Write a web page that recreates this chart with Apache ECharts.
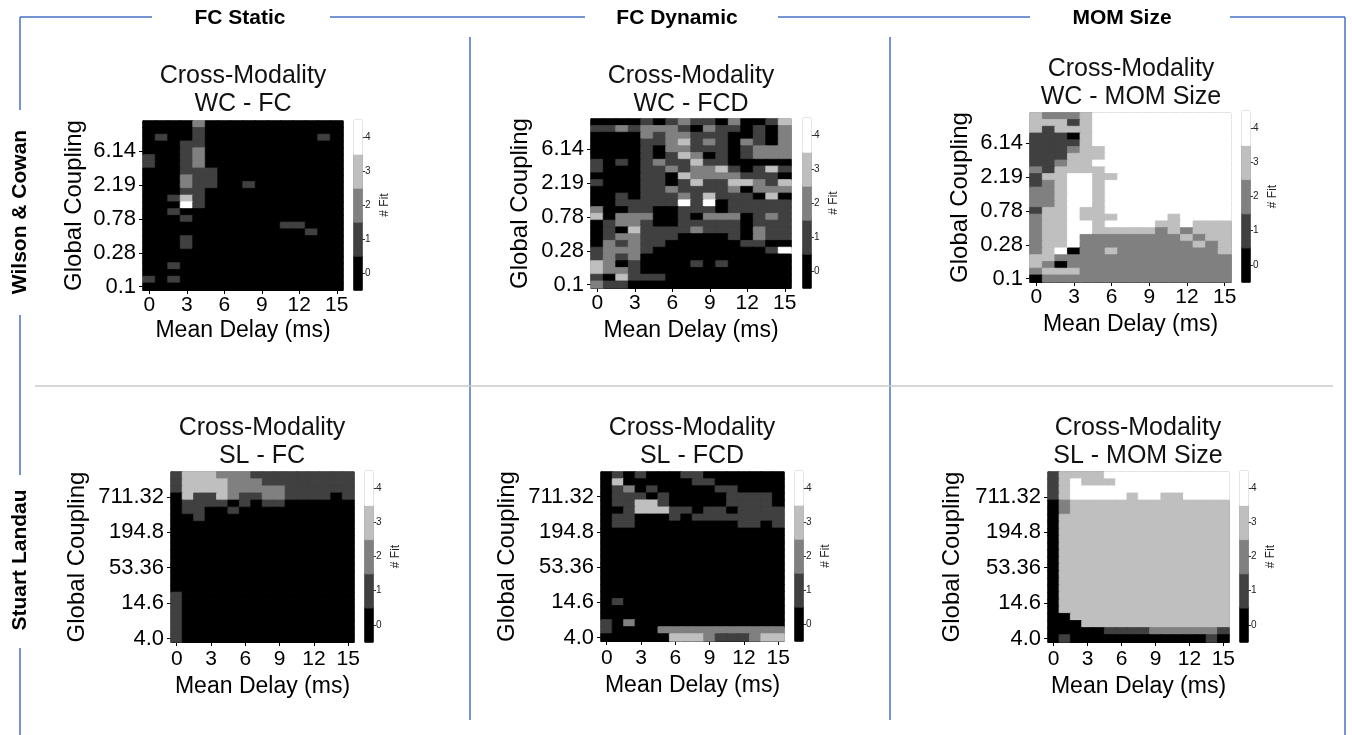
<!DOCTYPE html>
<html>
<head>
<meta charset="utf-8">
<title>Cross-Modality fits</title>
<script src="https://cdn.jsdelivr.net/npm/echarts@6/dist/echarts.min.js"></script>
<style>
  html, body { margin: 0; padding: 0; background: #fff; }
  #main { width: 1352px; height: 735px; }
</style>
</head>
<body>
<div id="main"></div>
<script>
  // x categories: mean delay in ms
  const meanDelay = ['0','1','2','3','4','5','6','7','8','9','10','11','12','13','14','15'];
  // y tick labels (every 5th row)
  const wcTicks = ['0.1', '0.28', '0.78', '2.19', '6.14'];
  const slTicks = ['4.0', '14.6', '53.36', '194.8', '711.32'];
  // colour bar levels (# Fit)
  const fitLevels = [0, 1, 2, 3, 4];
  const fitColors = ['#000000', '#404040', '#808080', '#bfbfbf', '#ffffff'];

  // each string is one row of # Fit, top row first, one digit per delay column
  const wcFC = [
    '0000200000000000',
    '0000100000000000',
    '0100100000000010',
    '0001100000000000',
    '0001200000000000',
    '1001200000000000',
    '1001200000000000',
    '0001110000000000',
    '0002110000000000',
    '0002110010000000',
    '0001100000000000',
    '0013100000000000',
    '0004100000000000',
    '0010000000000000',
    '0001000000000000',
    '0000000000011000',
    '0000000000000100',
    '0001000000000000',
    '0001000000000000',
    '0000000000000000',
    '0000000000000000',
    '0010000000000000',
    '0000000000000000',
    '1010000000000000',
    '0000000000000000'
  ];
  const wcFCD = [
    '0000101211020013',
    '1121222102110102',
    '0000212211100102',
    '0000112312102102',
    '0000102211101222',
    '0000101320101222',
    '1010121131100000',
    '1000112122310131',
    '0000110322221110',
    '1000110131133213',
    '0000112111120222',
    '0010111213111030',
    '0011111414011111',
    '2001100111011111',
    '3022200102220121',
    '0122100111110111',
    '0103111121110211',
    '0122111000010211',
    '0212110000001100',
    '1222100000000014',
    '1212000000000000',
    '3201000010100000',
    '3221000000000000',
    '1031110000000000',
    '2110000000000000'
  ];
  const wcMOM = [
    '3222344444444444',
    '3331344444444444',
    '3133344444444444',
    '1110344444444444',
    '1111344444444444',
    '1112334444444444',
    '1113334444444444',
    '1123344444444444',
    '2133334444444444',
    '1334433444444444',
    '1234434444444444',
    '2234434444444444',
    '2234434444444444',
    '2234434444444444',
    '1334334444444444',
    '2334333444434444',
    '2334434444334333',
    '2334433333232333',
    '2334222222223233',
    '2334222222222323',
    '2340223222222223',
    '3322222222222222',
    '3202222222222222',
    '2333222222222222',
    '0222222222222222'
  ];
  const slFC = [
    '1333222111111111',
    '1333322211111111',
    '1333322222111111',
    '0311321122111101',
    '0111101011000000',
    '0110010000000000',
    '0010000000000000',
    '0000000000000000',
    '0000000000000000',
    '0000000000000000',
    '0000000000000000',
    '0000000000000000',
    '0000000000000000',
    '0000000000000000',
    '0000000000000000',
    '0000000000000000',
    '0000000000000000',
    '1000000000000000',
    '1000000000000000',
    '1000000000000000',
    '1000000000000000',
    '1000000000000000',
    '1000000000000000',
    '1000000000000000'
  ];
  const slFCD = [
    '0101000110000000',
    '0300000011000000',
    '0120100000110000',
    '0111010000011110',
    '0113310000011110',
    '0013331101101111',
    '0110001011111111',
    '0110000000001101',
    '0000000000000000',
    '0000000000000000',
    '0000000000000000',
    '0000000000000000',
    '0000000000000000',
    '0000000000000000',
    '0000000000000000',
    '0000000000000000',
    '0000000000000000',
    '0000000000000000',
    '0100000000000000',
    '0000000000000000',
    '0000000000000000',
    '1020000000000000',
    '1000022222222222',
    '0000003332111233'
  ];
  const slMOM = [
    '1333344444444444',
    '1343334444444444',
    '1344444444444444',
    '1344444344334444',
    '0233333333333333',
    '0233333333333333',
    '0333333333333333',
    '0333333333333333',
    '0333333333333333',
    '0333333333333333',
    '0333333333333333',
    '0333333333333333',
    '0333333333333333',
    '0333333333333333',
    '0333333333333333',
    '0333333333333333',
    '0333333333333333',
    '0333333333333333',
    '0333333333333333',
    '0333333333333333',
    '0033333333333333',
    '0003333333333333',
    '0000011112222221',
    '0100000000000010'
  ];

  const FONT = 'Liberation Sans, Arial, Helvetica, sans-serif';
  const BLUE = '#4472c4';

  // layout of the six panels
  const panels = [
    { rows: wcFC,  ticks: wcTicks, title: 'Cross-Modality\nWC - FC',
      grid: { left: 143, top: 121, width: 200, height: 169 }, cb: { left: 354, top: 120, width: 8, height: 170 },
      tx: 243, ty: 62, yGap: 57, xGap: 29, lm: 5 },
    { rows: wcFCD, ticks: wcTicks, title: 'Cross-Modality\nWC - FCD',
      grid: { left: 591, top: 119, width: 200, height: 169 }, cb: { left: 803, top: 118, width: 8, height: 170 },
      tx: 691, ty: 62, yGap: 59, xGap: 31, lm: 5 },
    { rows: wcMOM, ticks: wcTicks, title: 'Cross-Modality\nWC - MOM Size',
      grid: { left: 1030, top: 113, width: 201, height: 169 }, cb: { left: 1242, top: 111, width: 8, height: 171 },
      tx: 1131, ty: 55, yGap: 58, xGap: 31, lm: 5 },
    { rows: slFC,  ticks: slTicks, title: 'Cross-Modality\nSL - FC',
      grid: { left: 171, top: 472, width: 183, height: 170 }, cb: { left: 365, top: 471, width: 8, height: 171 },
      tx: 262, ty: 414, yGap: 82, xGap: 33, lm: 7 },
    { rows: slFCD, ticks: slTicks, title: 'Cross-Modality\nSL - FCD',
      grid: { left: 601, top: 472, width: 183, height: 169 }, cb: { left: 795, top: 471, width: 8, height: 170 },
      tx: 692, ty: 414, yGap: 82, xGap: 33, lm: 7 },
    { rows: slMOM, ticks: slTicks, title: 'Cross-Modality\nSL - MOM Size',
      grid: { left: 1048, top: 472, width: 181, height: 170 }, cb: { left: 1240, top: 471, width: 8, height: 171 },
      tx: 1138, ty: 414, yGap: 84, xGap: 33, lm: 7 }
  ];

  // one heatmap item per cell; the border in the same colour hides seams
  function item(c, r, v) {
    return { value: [c, r, v], itemStyle: { borderColor: fitColors[v], borderWidth: 0.8 } };
  }
  function toCells(rows) {
    const n = rows.length;
    const out = [];
    rows.forEach(function (row, t) {
      for (let c = 0; c < row.length; c++) {
        out.push(item(c, n - 1 - t, Number(row[c])));
      }
    });
    return out;
  }

  const grid = [], xAxis = [], yAxis = [], series = [], title = [];

  panels.forEach(function (p, i) {
    grid.push(Object.assign({ show: true, borderColor: '#444', borderWidth: 1, backgroundColor: 'transparent' }, p.grid));
    const rowIds = p.rows.map(function (_, k) { return String(k); });
    const every5 = function (idx) { return idx % 5 === 0; };
    xAxis.push({
      type: 'category', gridIndex: i, data: meanDelay,
      axisLine: { show: true, lineStyle: { color: '#000', width: 1 } },
      axisTick: { show: true, alignWithLabel: true, interval: 2, length: 4, lineStyle: { color: '#000' } },
      axisLabel: { interval: 2, fontSize: 21, color: '#000', margin: p.lm, fontFamily: FONT },
      splitLine: { show: false },
      name: 'Mean Delay (ms)', nameLocation: 'middle', nameGap: p.xGap,
      nameTextStyle: { fontSize: 23, color: '#000', fontFamily: FONT }
    });
    yAxis.push({
      type: 'category', gridIndex: i, data: rowIds,
      axisLine: { show: true, lineStyle: { color: '#000', width: 1 } },
      axisTick: { show: true, alignWithLabel: true, interval: every5, length: 4, lineStyle: { color: '#000' } },
      axisLabel: {
        interval: every5, fontSize: 22, color: '#000', margin: 7, fontFamily: FONT,
        formatter: function (v, idx) { return p.ticks[idx / 5]; }
      },
      splitLine: { show: false },
      name: 'Global Coupling', nameLocation: 'middle', nameRotate: 90, nameGap: p.yGap,
      nameTextStyle: { fontSize: 24, color: '#000', fontFamily: FONT }
    });
    series.push({
      type: 'heatmap', xAxisIndex: i, yAxisIndex: i,
      data: toCells(p.rows), emphasis: { disabled: true }, silent: true
    });
    title.push({
      text: p.title, left: p.tx, top: p.ty, textAlign: 'center', padding: 0,
      textStyle: { fontSize: 25, fontWeight: 'normal', color: '#111', lineHeight: 28, fontFamily: FONT }
    });
  });

  // colour bars, one per panel
  panels.forEach(function (p, i) {
    const gi = panels.length + i;
    grid.push(Object.assign({ show: true, borderColor: '#555', borderWidth: 1, backgroundColor: 'transparent' }, p.cb));
    xAxis.push({ type: 'category', gridIndex: gi, data: [''], show: false });
    yAxis.push({
      type: 'category', gridIndex: gi, position: 'right',
      data: fitLevels.map(String),
      axisLine: { show: false },
      axisTick: { show: true, alignWithLabel: true, length: 3, lineStyle: { color: '#333' } },
      axisLabel: { fontSize: 10, color: '#222', margin: 3, fontFamily: FONT },
      splitLine: { show: false },
      name: '# Fit', nameLocation: 'middle', nameRotate: 90, nameGap: 17,
      nameTextStyle: { fontSize: 12, color: '#222', fontFamily: FONT }
    });
    series.push({
      type: 'heatmap', xAxisIndex: gi, yAxisIndex: gi,
      data: fitLevels.map(function (v, k) { return item(0, k, v); }),
      emphasis: { disabled: true }, silent: true
    });
  });

  function seg(x1, y1, x2, y2, color, w) {
    return { type: 'line', silent: true, shape: { x1: x1, y1: y1, x2: x2, y2: y2 },
      style: { stroke: color || BLUE, lineWidth: w || 1.5 } };
  }
  function label(txt, x, y, rot) {
    return { type: 'text', x: x, y: y, rotation: rot || 0, silent: true,
      style: { text: txt, fill: '#000', font: 'bold 21px ' + FONT,
        textAlign: 'center', align: 'center', textVerticalAlign: 'middle', verticalAlign: 'middle' } };
  }

  const graphic = [
    // outer frame with breaks for the headings
    seg(20, 17, 152, 17), seg(330, 17, 585, 17), seg(778, 17, 1030, 17), seg(1230, 17, 1345, 17),
    seg(20, 17, 20, 110), seg(20, 315, 20, 475), seg(20, 648, 20, 735),
    seg(1345, 17, 1345, 735),
    // column dividers and row divider
    seg(470, 37, 470, 720), seg(890, 37, 890, 720),
    seg(35, 386, 1333, 386, '#c8c8c8', 1.5),
    label('FC Static', 240, 18), label('FC Dynamic', 677, 18), label('MOM Size', 1122, 18),
    label('Wilson & Cowan', 20, 212, Math.PI / 2), label('Stuart Landau', 20, 560, Math.PI / 2)
  ];

  const chart = echarts.init(document.getElementById('main'));
  chart.setOption({
    backgroundColor: '#ffffff',
    animation: false,
    title: title,
    grid: grid,
    xAxis: xAxis,
    yAxis: yAxis,
    visualMap: {
      type: 'piecewise', show: false, dimension: 2,
      pieces: fitLevels.map(function (v) { return { value: v, color: fitColors[v] }; })
    },
    graphic: graphic,
    series: series
  });
</script>
</body>
</html>
